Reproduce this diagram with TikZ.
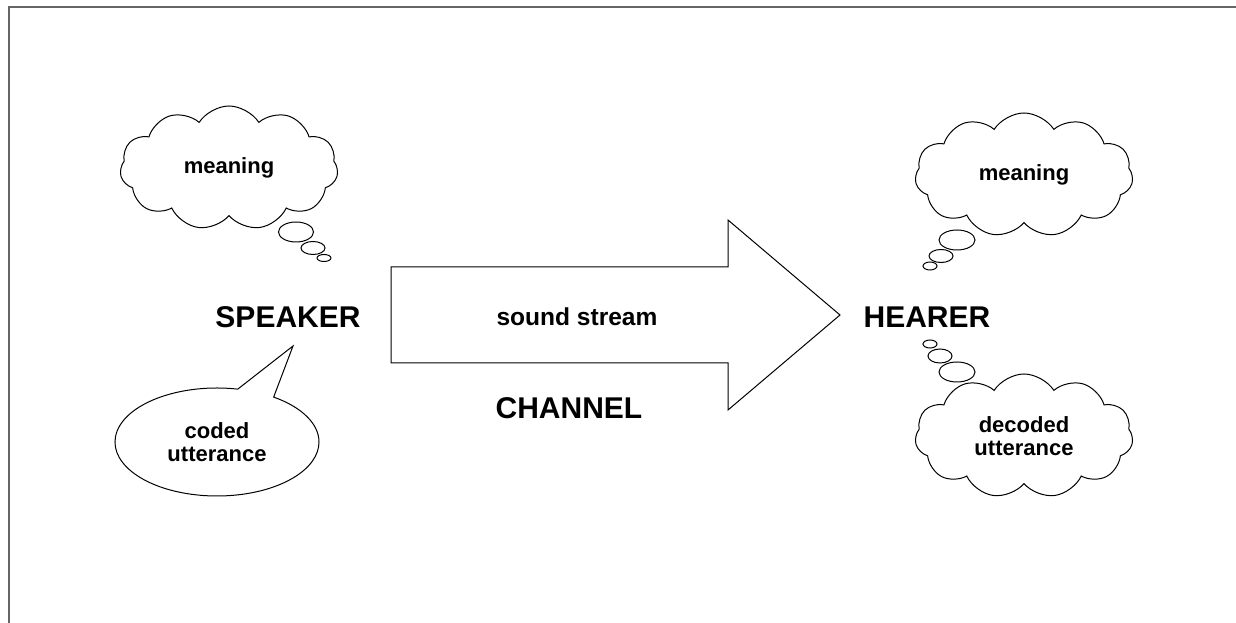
\documentclass[tikz,border=0pt]{standalone}
\usepackage{fontspec}
\setmainfont{Liberation Sans}
\usetikzlibrary{positioning, shapes.symbols, shapes.callouts, shapes.geometric}
\tikzset{%
	thought/.style={draw, cloud, cloud puffs=11, cloud puff arc=115, aspect=1.75,%
		fill=white, inner sep=0mm, minimum width=163.5pt, minimum height=93pt,%
		line width=0.75pt, align=center, font=\bfseries\fontsize{16.5}{17.5}\selectfont},
	bubble/.style={draw, ellipse, inner sep=0mm, fill=white, line width=0.75pt},
	speech/.style={draw, ellipse callout, callout pointer arc=22, inner sep=0mm,%
		minimum width=153pt, minimum height=81pt, line width=0.75pt,%
		align=center, font=\bfseries\fontsize{16.5}{17.5}\selectfont},
	who/.style={inner sep=0mm, font=\bfseries\fontsize{22.5}{27}\selectfont},
	streamtext/.style={inner sep=0mm, font=\bfseries\fontsize{18.4}{22}\selectfont},
	channel/.style={draw, line width=0.75pt, fill=white},
	frame/.style={line width=1.1pt, black!60}
}
\begin{document}
\begin{tikzpicture}[x=0.75pt, y=-0.75pt]
	\useasboundingbox (0,0) rectangle (1236,623);
	\draw[frame] (9,623) |- (1236,7);

	% speaker side
	\node[who] (speaker) at (288,317) {SPEAKER};
	\node[thought] (smean) at (229,168) {meaning};
	\node[bubble, minimum width=26.25pt, minimum height=15pt] (sb1) at (296,232) {};
	\node[bubble, minimum width=18pt, minimum height=9.75pt] (sb2) at (313,248) {};
	\node[bubble, minimum width=10.5pt, minimum height=5.25pt] (sb3) at (324,258) {};
	\coordinate (stip) at (293,346);
	\node[speech, callout absolute pointer={(stip)}] (coded) at (217,442) {coded\\utterance};

	% channel
	\draw[channel] (391,267) coordinate (a1) -- (728,267) -- (728,220) -- (840,315) coordinate (tip)
		-- (728,410) -- (728,363) -- (391,363) -- cycle;
	\node[streamtext] (stream) at (577,317) {sound stream};
	\node[who] (chan) at (569,408) {CHANNEL};

	% hearer side
	\node[who] (hearer) at (927,317) {HEARER};
	\node[thought] (hmean) at (1024,175) {meaning};
	\node[bubble, minimum width=27pt, minimum height=15pt] (hb1) at (957,240) {};
	\node[bubble, minimum width=18pt, minimum height=9.75pt] (hb2) at (941,256) {};
	\node[bubble, minimum width=10.5pt, minimum height=6pt] (hb3) at (930,266) {};
	\node[thought] (decoded) at (1024,436) {decoded\\utterance};
	\node[bubble, minimum width=27pt, minimum height=15pt] (db1) at (957,372) {};
	\node[bubble, minimum width=18pt, minimum height=10.5pt] (db2) at (940,356) {};
	\node[bubble, minimum width=10.5pt, minimum height=6pt] (db3) at (930,344) {};
\end{tikzpicture}
\end{document}
